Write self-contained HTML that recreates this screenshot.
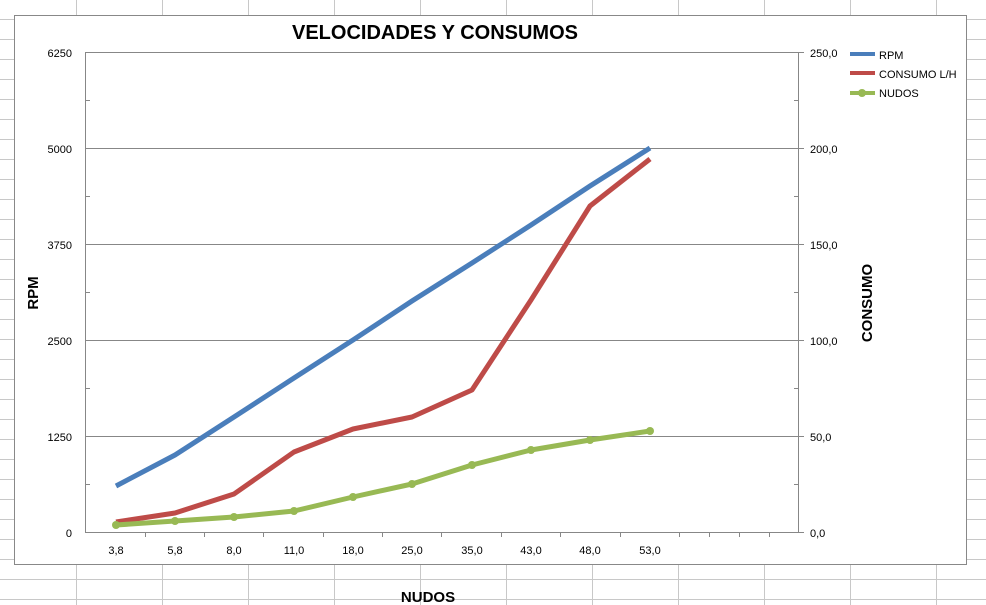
<!DOCTYPE html>
<html><head><meta charset="utf-8"><style>
html,body{margin:0;padding:0;background:#fff;}
svg{display:block;font-family:"Liberation Sans",sans-serif;}
</style></head><body>
<svg width="986" height="605" viewBox="0 0 986 605" xmlns="http://www.w3.org/2000/svg">
<g stroke="#c8c8c8" stroke-width="1">
<line x1="76.5" y1="0" x2="76.5" y2="605"/><line x1="162.5" y1="0" x2="162.5" y2="605"/><line x1="248.5" y1="0" x2="248.5" y2="605"/><line x1="334.5" y1="0" x2="334.5" y2="605"/><line x1="420.5" y1="0" x2="420.5" y2="605"/><line x1="506.5" y1="0" x2="506.5" y2="605"/><line x1="592.5" y1="0" x2="592.5" y2="605"/><line x1="678.5" y1="0" x2="678.5" y2="605"/><line x1="764.5" y1="0" x2="764.5" y2="605"/><line x1="850.5" y1="0" x2="850.5" y2="605"/><line x1="936.5" y1="0" x2="936.5" y2="605"/>
<line x1="0" y1="19.5" x2="986" y2="19.5"/><line x1="0" y1="39.5" x2="986" y2="39.5"/><line x1="0" y1="59.5" x2="986" y2="59.5"/><line x1="0" y1="79.5" x2="986" y2="79.5"/><line x1="0" y1="99.5" x2="986" y2="99.5"/><line x1="0" y1="119.5" x2="986" y2="119.5"/><line x1="0" y1="139.5" x2="986" y2="139.5"/><line x1="0" y1="159.5" x2="986" y2="159.5"/><line x1="0" y1="179.5" x2="986" y2="179.5"/><line x1="0" y1="199.5" x2="986" y2="199.5"/><line x1="0" y1="219.5" x2="986" y2="219.5"/><line x1="0" y1="239.5" x2="986" y2="239.5"/><line x1="0" y1="259.5" x2="986" y2="259.5"/><line x1="0" y1="279.5" x2="986" y2="279.5"/><line x1="0" y1="299.5" x2="986" y2="299.5"/><line x1="0" y1="319.5" x2="986" y2="319.5"/><line x1="0" y1="339.5" x2="986" y2="339.5"/><line x1="0" y1="359.5" x2="986" y2="359.5"/><line x1="0" y1="379.5" x2="986" y2="379.5"/><line x1="0" y1="399.5" x2="986" y2="399.5"/><line x1="0" y1="419.5" x2="986" y2="419.5"/><line x1="0" y1="439.5" x2="986" y2="439.5"/><line x1="0" y1="459.5" x2="986" y2="459.5"/><line x1="0" y1="479.5" x2="986" y2="479.5"/><line x1="0" y1="499.5" x2="986" y2="499.5"/><line x1="0" y1="519.5" x2="986" y2="519.5"/><line x1="0" y1="539.5" x2="986" y2="539.5"/><line x1="0" y1="559.5" x2="986" y2="559.5"/><line x1="0" y1="579.5" x2="986" y2="579.5"/><line x1="0" y1="599.5" x2="986" y2="599.5"/>
</g>
<rect x="14.5" y="15.5" width="952" height="549" fill="#fff" stroke="#888" stroke-width="1"/>
<text x="435" y="39" font-size="20" font-weight="bold" text-anchor="middle" fill="#000">VELOCIDADES Y CONSUMOS</text>
<g stroke="#878787" stroke-width="1" fill="none">
<line x1="86" y1="52.5" x2="798" y2="52.5"/><line x1="86" y1="148.5" x2="798" y2="148.5"/><line x1="86" y1="244.5" x2="798" y2="244.5"/><line x1="86" y1="340.5" x2="798" y2="340.5"/><line x1="86" y1="436.5" x2="798" y2="436.5"/><line x1="86" y1="532.5" x2="798" y2="532.5"/>
<line x1="85.5" y1="52" x2="85.5" y2="533"/><line x1="798.5" y1="52" x2="798.5" y2="533"/>
<line x1="798" y1="52.5" x2="804" y2="52.5"/><line x1="798" y1="148.5" x2="804" y2="148.5"/><line x1="798" y1="244.5" x2="804" y2="244.5"/><line x1="798" y1="340.5" x2="804" y2="340.5"/><line x1="798" y1="436.5" x2="804" y2="436.5"/><line x1="798" y1="532.5" x2="804" y2="532.5"/>
<line x1="86" y1="100.5" x2="90" y2="100.5"/><line x1="86" y1="196.5" x2="90" y2="196.5"/><line x1="86" y1="292.5" x2="90" y2="292.5"/><line x1="86" y1="388.5" x2="90" y2="388.5"/><line x1="86" y1="484.5" x2="90" y2="484.5"/>
<line x1="794" y1="100.5" x2="798" y2="100.5"/><line x1="794" y1="196.5" x2="798" y2="196.5"/><line x1="794" y1="292.5" x2="798" y2="292.5"/><line x1="794" y1="388.5" x2="798" y2="388.5"/><line x1="794" y1="484.5" x2="798" y2="484.5"/>
<line x1="145.5" y1="532" x2="145.5" y2="537"/><line x1="204.5" y1="532" x2="204.5" y2="537"/><line x1="263.5" y1="532" x2="263.5" y2="537"/><line x1="323.5" y1="532" x2="323.5" y2="537"/><line x1="382.5" y1="532" x2="382.5" y2="537"/><line x1="441.5" y1="532" x2="441.5" y2="537"/><line x1="501.5" y1="532" x2="501.5" y2="537"/><line x1="560.5" y1="532" x2="560.5" y2="537"/><line x1="620.5" y1="532" x2="620.5" y2="537"/><line x1="679.5" y1="532" x2="679.5" y2="537"/><line x1="709.5" y1="532" x2="709.5" y2="537"/><line x1="739.5" y1="532" x2="739.5" y2="537"/><line x1="769.5" y1="532" x2="769.5" y2="537"/>
</g>
<g font-size="11" fill="#000" text-anchor="end">
<text x="72" y="57">6250</text><text x="72" y="153">5000</text><text x="72" y="249">3750</text><text x="72" y="345">2500</text><text x="72" y="441">1250</text><text x="72" y="537">0</text>
</g>
<g font-size="11" fill="#000">
<text x="810" y="57">250,0</text><text x="810" y="153">200,0</text><text x="810" y="249">150,0</text><text x="810" y="345">100,0</text><text x="810" y="441">50,0</text><text x="810" y="537">0,0</text>
</g>
<g font-size="11" fill="#000" text-anchor="middle">
<text x="116" y="554">3,8</text><text x="175" y="554">5,8</text><text x="234" y="554">8,0</text><text x="294" y="554">11,0</text><text x="353" y="554">18,0</text><text x="412" y="554">25,0</text><text x="472" y="554">35,0</text><text x="531" y="554">43,0</text><text x="590" y="554">48,0</text><text x="650" y="554">53,0</text>
</g>
<text transform="translate(38,293) rotate(-90)" font-size="15" font-weight="bold" text-anchor="middle">RPM</text>
<text transform="translate(872,303) rotate(-90)" font-size="15" font-weight="bold" text-anchor="middle">CONSUMO</text>
<text x="428" y="602" font-size="15" font-weight="bold" text-anchor="middle">NUDOS</text>
<polyline fill="none" stroke="#4a7ebb" stroke-width="5" stroke-linejoin="round" points="116,486 175,455 234,417 294,378 353,340 412,301 472,263 531,225 590,186 650,148"/>
<polyline fill="none" stroke="#be4b48" stroke-width="5" stroke-linejoin="round" points="116,522 175,513 234,494 294,452 353,429 412,417 472,390 531,300 590,206 650,159"/>
<polyline fill="none" stroke="#98b954" stroke-width="5" stroke-linejoin="round" points="116,525 175,521 234,517 294,511 353,497 412,484 472,465 531,450 590,440 650,431"/>
<g fill="#98b954">
<circle cx="116" cy="525" r="4"/><circle cx="175" cy="521" r="4"/><circle cx="234" cy="517" r="4"/><circle cx="294" cy="511" r="4"/><circle cx="353" cy="497" r="4"/><circle cx="412" cy="484" r="4"/><circle cx="472" cy="465" r="4"/><circle cx="531" cy="450" r="4"/><circle cx="590" cy="440" r="4"/><circle cx="650" cy="431" r="4"/>
</g>
<rect x="850" y="52" width="25" height="4" fill="#4a7ebb"/>
<rect x="850" y="71" width="25" height="4" fill="#be4b48"/>
<rect x="850" y="91" width="25" height="4" fill="#98b954"/><circle cx="862" cy="93" r="4" fill="#98b954"/>
<g font-size="11" fill="#000">
<text x="879" y="59">RPM</text><text x="879" y="78">CONSUMO L/H</text><text x="879" y="97">NUDOS</text>
</g>
</svg>
</body></html>
